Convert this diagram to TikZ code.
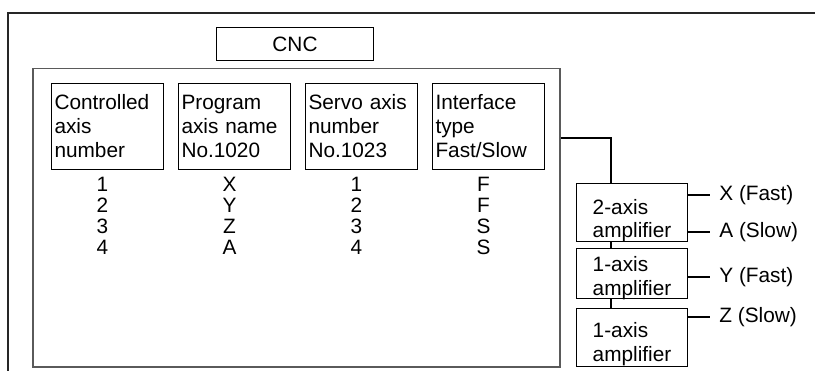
\documentclass[tikz,border=0pt]{standalone}
\usepackage{fontspec}
\setmainfont{Liberation Sans}
\usetikzlibrary{positioning}
\definecolor{framegray}{HTML}{5A5A5A}
\newcommand{\txtfont}{\fontsize{10.4}{12}\selectfont}
\tikzset{
  colbox/.style={draw,line width=0.5pt,anchor=north west,text width=53pt,inner xsep=1.5pt,minimum height=43pt,align=left,font=\txtfont},
  ampbox/.style={draw,line width=0.5pt,anchor=north west,minimum width=55.5pt,align=left,inner sep=1pt,font=\txtfont},
  vals/.style={align=center,inner sep=0pt,font=\fontsize{10.4}{10.5}\selectfont},
  lbl/.style={anchor=west,inner xsep=4.5pt,inner ysep=1.5pt,font=\txtfont},
  wire/.style={line width=1pt}
}
\begin{document}
\begin{tikzpicture}[x=5pt,y=5pt]
\useasboundingbox (0,0) rectangle (81.5,37);
% outer frame
\draw[black!85,line width=0.8pt] (0.8,-1) -- (0.8,35.7) -- (82,35.7);
\node[draw,line width=0.5pt,anchor=north west,minimum width=78.5pt,minimum height=16.5pt,font=\txtfont] (cnc) at (21.6,34.3) {CNC};
\node[draw=framegray,line width=0.75pt,anchor=north west,minimum width=263.5pt,minimum height=149pt,inner sep=0pt] (cpu) at (3.2,30.2) {};
% parameter columns
\node[colbox] (c1) at (5.1,28.7) {Controlled\\axis\\number};
\node[colbox,right=7pt of c1] (c2) {Program\\axis name\\No.1020};
\node[colbox,right=7pt of c2] (c3) {Servo axis\\number\\No.1023};
\node[colbox,right=7pt of c3] (c4) {Interface\\type\\Fast/Slow};
\node[vals,below=3.5pt of c1,xshift=-2.5pt] (v1) {1\\2\\3\\4};
\node[vals,below=3.5pt of c2,xshift=-2.5pt] (v2) {X\\Y\\Z\\A};
\node[vals,below=3.5pt of c3,xshift=-2.5pt] (v3) {1\\2\\3\\4};
\node[vals,below=3.5pt of c4,xshift=-2.5pt] (v4) {F\\F\\S\\S};
% amplifiers
\node[ampbox,text height=26.25pt,text depth=0.75pt] (a1) at (57.6,18.7) {2-axis\\amplifier};
\node[ampbox,text height=22.25pt,text depth=0.75pt] (a2) at (57.6,12.2) {1-axis\\amplifier};
\node[ampbox,text height=25.25pt,text depth=1.75pt] (a3) at (57.6,6.2) {1-axis\\amplifier};
\coordinate (bus) at (61.1,23.2);
\draw[wire] (cpu.east |- bus) -- (bus) -- (bus |- a1.north);
\draw[wire] (bus |- a1.south) -- (bus |- a2.north);
\draw[wire] (bus |- a2.south) -- (bus |- a3.north);
% axis outputs
\node[lbl] (xf) at (71.0,17.5) {X (Fast)};
\node[lbl] (as) at (71.0,13.8) {A (Slow)};
\node[lbl] (yf) at (71.0,9.3) {Y (Fast)};
\node[lbl] (zs) at (71.0,5.3) {Z (Slow)};
\draw[wire] (a1.east |- xf.west) -- (xf.west);
\draw[wire] (a1.east |- as.west) -- (as.west);
\draw[wire] (a2.east |- yf.west) -- (yf.west);
\draw[wire] (a3.east |- zs.west) -- (zs.west);
\end{tikzpicture}
\end{document}
